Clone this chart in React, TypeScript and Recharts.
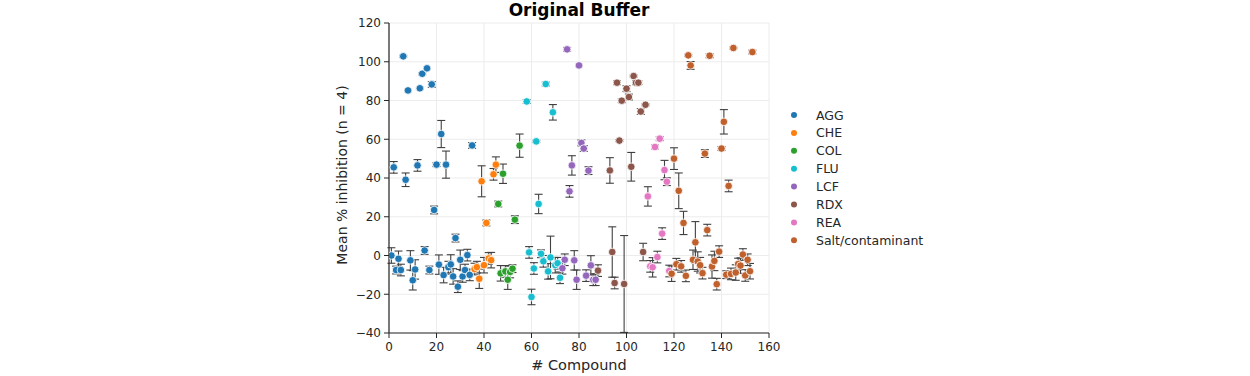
import React from "react";
import {
  ScatterChart,
  Scatter,
  XAxis,
  YAxis,
  CartesianGrid,
  ErrorBar,
  Legend,
} from "recharts";

// ---------- data ----------
const categories = ["AGG", "CHE", "COL", "FLU", "LCF", "RDX", "REA", "Salt/contaminant"];
const colors = ["#1f77b4", "#ff7f0e", "#2ca02c", "#17becf", "#9467bd", "#8c564b", "#e377c2", "#c0602c"];

const xTicks = [0, 20, 40, 60, 80, 100, 120, 140, 160];
const yTicks = [-40, -20, 0, 20, 40, 60, 80, 100, 120];

const aggCompound = [1, 2, 3, 4, 5, 6, 7, 8, 9, 10, 11, 12, 13, 14, 15, 16, 17, 18, 19, 20, 21, 22, 23, 24, 25, 26, 27, 28, 29, 30, 31, 32, 33, 34, 35];
const aggMean = [0.0, 45.5, -7.5, -1.7, -7.5, 102.8, 39.1, 85.2, -2.5, -12.8, -7.2, 46.5, 86.3, 93.8, 2.6, 96.6, -7.5, 88.3, 23.5, 46.9, -4.7, 62.7, -10.1, 46.9, -6.0, -4.6, -10.8, 9.0, -16.1, -2.2, -10.8, -7.5, 0.2, -10.0, 56.8];
const aggErr = [4, 3, 2, 4, 3, 0.5, 3.5, 0.5, 5, 5, 5, 3, 0.5, 0.5, 2, 0.5, 2, 1.5, 2, 1, 5, 7, 4, 7, 3, 5, 4, 2, 3, 5, 3, 3, 3, 3, 1.5];

const cheCompound = [36, 37, 38, 39, 40, 41, 42, 43, 44, 45];
const cheMean = [-7.0, -6.0, -12.0, 38.3, -5.0, 16.8, -1.5, -2.4, 41.9, 46.9];
const cheErr = [3, 3, 5, 8, 4, 1.5, 3, 4, 3, 4];

const colCompound = [46, 47, 48, 49, 50, 51, 52, 53, 55];
const colMean = [26.6, -9.2, 42.2, -8.2, -12.5, -8.5, -6.8, 18.5, 56.7];
const colErr = [1.5, 4, 5, 3, 5, 3, 2, 2, 6];

const fluCompound = [58, 59, 60, 61, 62, 63, 64, 65, 66, 67, 68, 69, 70, 71, 72];
const fluMean = [79.5, 1.6, -21.4, -6.7, 58.9, 26.6, 0.9, -3.0, 88.5, -8.2, -1.0, 73.9, -5.0, -4.0, -11.5];
const fluErr = [1, 3, 4, 3, 0.5, 5, 2, 3, 1, 4, 11, 4, 4, 3, 3];

const lcfCompound = [73, 74, 75, 76, 77, 78, 79, 80, 81, 82, 83, 84, 85, 86, 87];
const lcfMean = [-6.6, -2.2, 106.4, 33.1, 46.5, -2.5, -12.5, 98.1, 58.1, 55.2, -10.4, 43.8, -5.1, -12.5, -12.5];
const lcfErr = [3, 3, 1, 3, 5, 5, 5, 0.5, 1.5, 1.5, 3, 2, 5, 3, 3];

const rdxCompound = [88, 93, 94, 95, 96, 97, 98, 99, 100, 101, 102, 103, 104, 105, 106, 107, 108];
const rdxMean = [-7.8, 43.9, 1.8, -14.2, 89.2, 59.3, 79.9, -14.7, 86.1, 81.8, 45.8, 92.6, 89.2, 89.2, 74.3, 1.8, 77.8];
const rdxErr = [3, 6.6, 13, 3, 1, 0.5, 1, 25, 1.5, 1.5, 7.4, 0.5, 1, 1, 1.5, 4.5, 0.5];

const reaCompound = [109, 110, 111, 112, 113, 114, 115, 116, 117, 118];
const reaMean = [30.5, -5.6, -6.1, 56.0, -0.8, 60.3, 11.3, 44.1, 38.1, -8.0];
const reaErr = [5, 3, 5, 1, 3, 1, 3, 5, 2, 3];

const saltCompound = [119, 120, 121, 122, 123, 124, 125, 126, 127, 128, 129, 130, 131, 132, 133, 134, 135, 136, 137, 138, 139, 140, 141, 142, 143, 144, 145, 146, 147, 148, 149, 150, 151, 152, 153];
const saltMean = [-9.4, 50.0, -4.5, 33.4, -5.6, 16.8, -10.5, 103.3, 98.1, -2.2, 6.8, -3.1, -5.0, -9.1, 52.6, 13.1, 103.1, -5.7, -2.8, -14.8, 2.0, 55.2, 69.0, -9.9, 35.9, -9.5, 107.1, -8.8, -4.4, -5.2, 0.5, -10.3, -2.2, -8.1, 105.0];
const saltErr = [4, 5.6, 3, 9.2, 3, 6, 3, 0.5, 2, 5, 10.7, 5, 4, 3, 2, 3, 1, 6, 5, 3, 3, 1, 6.3, 2, 3, 3, 0.5, 4, 3, 4, 3, 3, 3, 4, 1];

const build = (xs: number[], ys: number[], es: number[]) =>
  xs.map((x, i) => ({ x, y: ys[i], err: es[i] }));

const seriesData = [
  build(aggCompound, aggMean, aggErr),
  build(cheCompound, cheMean, cheErr),
  build(colCompound, colMean, colErr),
  build(fluCompound, fluMean, fluErr),
  build(lcfCompound, lcfMean, lcfErr),
  build(rdxCompound, rdxMean, rdxErr),
  build(reaCompound, reaMean, reaErr),
  build(saltCompound, saltMean, saltErr),
];

const FONT = "'DejaVu Sans', sans-serif";
const TXT = "#262626";

const fmt = (v: number) => String(v).replace("-", "\u2212");

const makeDot = (color: string) => (props: any) => {
  if (props.cx == null || props.cy == null) return <g />;
  return <circle cx={props.cx} cy={props.cy} r={3.8} fill={color} stroke="#ffffff" strokeWidth={0.8} />;
};

const LegendBox = () => (
  <svg width={170} height={150}>
    {categories.map((c, i) => {
      const cy = 9 + i * 17.9;
      return (
        <g key={c}>
          <circle cx={9} cy={cy} r={3} fill={colors[i]} />
          <text x={31} y={cy + 4.5} fontSize={12.5} fontFamily={FONT} fill={TXT}>
            {c}
          </text>
        </g>
      );
    })}
  </svg>
);

export default function App() {
  return (
    <div style={{ position: "absolute", left: 0, top: 0, width: 1250, height: 376, background: "#fff", fontFamily: FONT }}>
      <ScatterChart
        width={1250}
        height={376}
        margin={{ top: 23, right: 481, bottom: 13, left: 329 }}
      >
        <CartesianGrid stroke="#ececec" strokeWidth={1} />
        <XAxis
          type="number"
          dataKey="x"
          domain={[0, 160]}
          ticks={xTicks}
          height={30}
          tickSize={5}
          tickMargin={4}
          allowDataOverflow
          axisLine={{ stroke: TXT, strokeWidth: 1.2 }}
          tickLine={{ stroke: TXT }}
          tick={{ fontSize: 12, fill: TXT, fontFamily: FONT }}
        />
        <YAxis
          type="number"
          dataKey="y"
          domain={[-40, 120]}
          ticks={yTicks}
          width={60}
          tickSize={5}
          tickMargin={3}
          allowDataOverflow
          tickFormatter={fmt}
          axisLine={{ stroke: TXT, strokeWidth: 1.2 }}
          tickLine={{ stroke: TXT }}
          tick={{ fontSize: 12, fill: TXT, fontFamily: FONT }}
        />
        <Legend
          layout="vertical"
          align="center"
          verticalAlign="middle"
          wrapperStyle={{ left: 785, top: 106, width: 170, height: 150 }}
          content={() => <LegendBox />}
        />
        {seriesData.map((d, i) => (
          <Scatter
            key={categories[i]}
            name={categories[i]}
            data={d}
            fill={colors[i]}
            isAnimationActive={false}
            shape={makeDot(colors[i])}
          >
            <ErrorBar dataKey="err" direction="y" width={4} stroke="#404040" strokeWidth={1.1} />
          </Scatter>
        ))}
      </ScatterChart>
      <div style={{ position: "absolute", left: 379, top: 0, width: 400, textAlign: "center", fontWeight: "bold", fontSize: 17, lineHeight: "20px", color: "#000" }}>
        Original Buffer
      </div>
      <div style={{ position: "absolute", left: 389, top: 357, width: 380, textAlign: "center", fontSize: 14.5, lineHeight: "16px", color: TXT }}>
        # Compound
      </div>
      <div style={{ position: "absolute", left: 192, top: 167, width: 300, textAlign: "center", fontSize: 14, lineHeight: "16px", color: TXT, transform: "rotate(-90deg)" }}>
        Mean % inhibition (n = 4)
      </div>
    </div>
  );
}
